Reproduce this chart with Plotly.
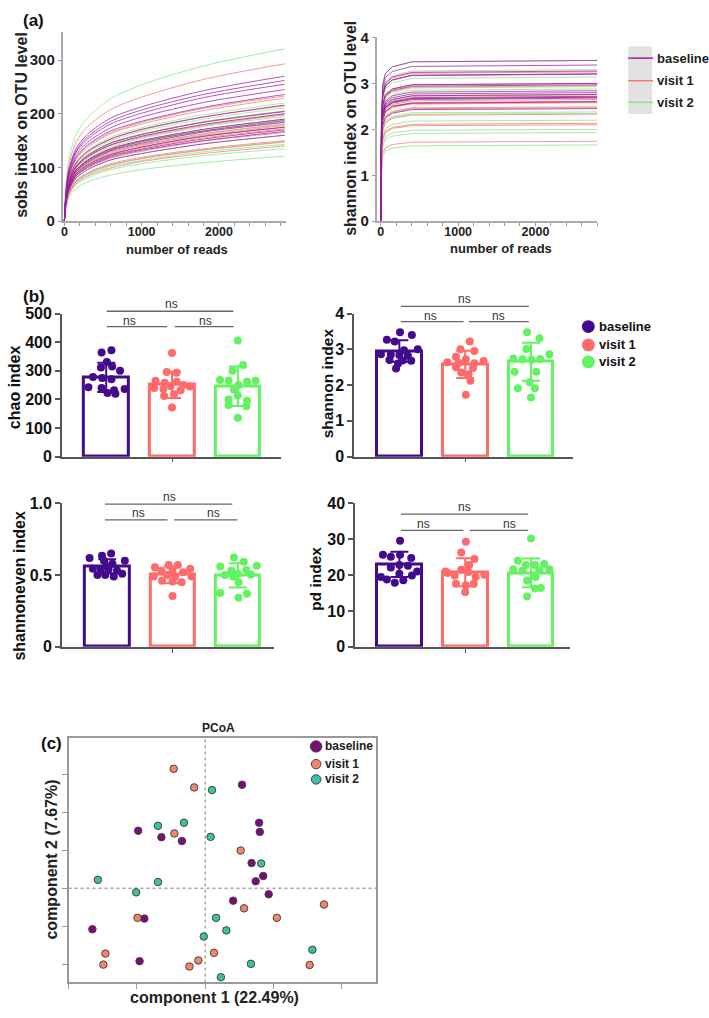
import plotly.graph_objects as go

W, H = 709, 1018
FONT = "Liberation Sans, Arial, sans-serif"

groups = ["baseline", "visit 1", "visit 2"]

# ---------------- (a) rarefaction curves ----------------
sobs_depth = [0, 20, 60, 150, 300, 600, 1000, 1800, 2850]
sobs_baseline = [
    [0, 54, 97, 135, 162, 192, 213, 243, 270],
    [0, 52, 94, 131, 157, 186, 207, 236, 262],
    [0, 51, 92, 128, 153, 181, 201, 230, 255],
    [0, 49, 88, 123, 147, 174, 194, 221, 245],
    [0, 47, 85, 118, 142, 168, 186, 212, 236],
    [0, 43, 78, 108, 130, 153, 171, 194, 216],
    [0, 41, 73, 102, 122, 145, 161, 184, 204],
    [0, 40, 72, 100, 120, 142, 158, 180, 200],
    [0, 38, 68, 95, 114, 135, 150, 171, 190],
    [0, 37, 67, 94, 112, 133, 148, 168, 187],
    [0, 37, 66, 92, 110, 131, 145, 166, 184],
    [0, 35, 63, 88, 105, 124, 138, 158, 175],
    [0, 34, 61, 85, 102, 121, 134, 153, 170],
    [0, 33, 60, 84, 100, 119, 132, 150, 167],
    [0, 32, 58, 80, 96, 114, 126, 144, 160],
]
sobs_visit1 = [
    [0, 59, 105, 147, 176, 208, 231, 264, 293],
    [0, 47, 84, 117, 140, 165, 184, 210, 233],
    [0, 46, 82, 115, 137, 163, 181, 206, 229],
    [0, 43, 77, 108, 129, 153, 170, 194, 215],
    [0, 41, 74, 103, 123, 146, 162, 185, 205],
    [0, 40, 71, 99, 119, 141, 156, 178, 198],
    [0, 38, 68, 95, 114, 135, 150, 171, 190],
    [0, 36, 65, 91, 109, 129, 143, 163, 181],
    [0, 36, 64, 89, 107, 126, 141, 160, 178],
    [0, 35, 63, 88, 105, 124, 138, 158, 175],
    [0, 34, 62, 86, 103, 122, 136, 155, 172],
    [0, 33, 59, 83, 99, 117, 130, 149, 165],
    [0, 30, 54, 75, 90, 107, 119, 135, 150],
    [0, 30, 53, 74, 89, 105, 117, 133, 148],
    [0, 28, 50, 70, 84, 99, 111, 126, 140],
]
sobs_visit2 = [
    [0, 64, 116, 161, 193, 228, 254, 289, 321],
    [0, 44, 79, 110, 132, 156, 174, 198, 220],
    [0, 42, 76, 106, 127, 150, 167, 190, 211],
    [0, 41, 74, 103, 123, 146, 162, 185, 205],
    [0, 40, 72, 100, 120, 142, 158, 180, 200],
    [0, 39, 70, 98, 117, 138, 154, 176, 195],
    [0, 38, 68, 94, 113, 133, 149, 169, 188],
    [0, 37, 67, 93, 111, 131, 146, 167, 185],
    [0, 36, 65, 90, 108, 128, 142, 162, 180],
    [0, 35, 63, 88, 105, 124, 138, 158, 175],
    [0, 32, 58, 80, 96, 114, 126, 144, 160],
    [0, 29, 53, 74, 88, 104, 116, 132, 147],
    [0, 29, 51, 72, 86, 102, 113, 129, 143],
    [0, 27, 49, 68, 81, 96, 107, 122, 135],
    [0, 24, 44, 61, 73, 86, 96, 109, 121],
]

shan_depth = [0, 8, 25, 60, 150, 400, 2800]
shan_baseline = [
    [0, 2.10, 2.98, 3.22, 3.36, 3.47, 3.50],
    [0, 2.04, 2.89, 3.13, 3.26, 3.37, 3.40],
    [0, 1.96, 2.78, 3.01, 3.14, 3.24, 3.27],
    [0, 1.93, 2.73, 2.95, 3.08, 3.18, 3.21],
    [0, 1.92, 2.72, 2.94, 3.07, 3.17, 3.20],
    [0, 1.80, 2.55, 2.76, 2.88, 2.97, 3.00],
    [0, 1.78, 2.52, 2.73, 2.85, 2.94, 2.97],
    [0, 1.70, 2.41, 2.61, 2.73, 2.81, 2.84],
    [0, 1.68, 2.38, 2.58, 2.69, 2.77, 2.80],
    [0, 1.66, 2.35, 2.54, 2.65, 2.73, 2.76],
    [0, 1.63, 2.31, 2.50, 2.61, 2.69, 2.72],
    [0, 1.62, 2.30, 2.48, 2.59, 2.67, 2.70],
    [0, 1.61, 2.28, 2.47, 2.57, 2.65, 2.68],
    [0, 1.56, 2.21, 2.39, 2.50, 2.57, 2.60],
    [0, 1.47, 2.08, 2.25, 2.35, 2.43, 2.45],
]
shan_visit1 = [
    [0, 1.95, 2.76, 2.99, 3.12, 3.22, 3.25],
    [0, 1.80, 2.55, 2.76, 2.88, 2.97, 3.00],
    [0, 1.77, 2.51, 2.71, 2.83, 2.92, 2.95],
    [0, 1.66, 2.35, 2.54, 2.65, 2.73, 2.76],
    [0, 1.62, 2.30, 2.48, 2.59, 2.67, 2.70],
    [0, 1.59, 2.25, 2.44, 2.54, 2.62, 2.65],
    [0, 1.57, 2.22, 2.40, 2.51, 2.58, 2.61],
    [0, 1.56, 2.21, 2.39, 2.50, 2.57, 2.60],
    [0, 1.55, 2.19, 2.37, 2.48, 2.55, 2.58],
    [0, 1.49, 2.12, 2.29, 2.39, 2.47, 2.49],
    [0, 1.48, 2.10, 2.27, 2.37, 2.45, 2.47],
    [0, 1.40, 1.98, 2.14, 2.24, 2.31, 2.33],
    [0, 1.28, 1.81, 1.96, 2.04, 2.11, 2.13],
    [0, 1.26, 1.79, 1.93, 2.02, 2.08, 2.10],
    [0, 1.04, 1.48, 1.60, 1.67, 1.72, 1.74],
]
shan_visit2 = [
    [0, 2.10, 2.98, 3.22, 3.36, 3.47, 3.50],
    [0, 1.98, 2.81, 3.04, 3.17, 3.27, 3.30],
    [0, 1.88, 2.67, 2.89, 3.01, 3.11, 3.14],
    [0, 1.80, 2.55, 2.76, 2.88, 2.97, 3.00],
    [0, 1.76, 2.49, 2.70, 2.81, 2.90, 2.93],
    [0, 1.73, 2.45, 2.65, 2.76, 2.85, 2.88],
    [0, 1.65, 2.34, 2.53, 2.64, 2.72, 2.75],
    [0, 1.62, 2.30, 2.48, 2.59, 2.67, 2.70],
    [0, 1.56, 2.21, 2.39, 2.50, 2.57, 2.60],
    [0, 1.43, 2.02, 2.19, 2.28, 2.36, 2.38],
    [0, 1.41, 2.00, 2.16, 2.26, 2.33, 2.35],
    [0, 1.32, 1.87, 2.02, 2.11, 2.18, 2.20],
    [0, 1.20, 1.70, 1.84, 1.92, 1.98, 2.00],
    [0, 1.16, 1.64, 1.78, 1.85, 1.91, 1.93],
    [0, 1.00, 1.41, 1.53, 1.59, 1.64, 1.66],
]

# ---------------- (b) alpha diversity bars ----------------
chao_mean = [277, 251, 246]
chao_sd = [51, 46, 69]
chao_pts = [
    [372, 364, 331, 315, 311, 300, 278, 275, 270, 242, 240, 236, 232, 222, 220],
    [362, 296, 293, 265, 262, 258, 250, 247, 245, 240, 236, 232, 218, 212, 172],
    [406, 320, 300, 268, 266, 265, 262, 250, 235, 214, 200, 195, 180, 176, 136],
]
chao_jit = [
    [0.08, -0.07, 0.01, 0.09, -0.08, 0.21, -0.2, -0.06, 0.08, -0.27, -0.07, 0.28, 0.12, 0.02, 0.14],
    [0.0, -0.08, 0.07, -0.25, 0.07, -0.11, 0.17, -0.02, 0.27, -0.27, -0.13, 0.13, 0.03, -0.12, 0.0],
    [0.0, 0.08, -0.08, -0.27, -0.14, 0.27, 0.14, 0.01, -0.06, 0.0, -0.14, 0.14, -0.14, 0.13, 0.0],
]

shannon_mean = [2.95, 2.58, 2.65]
shannon_sd = [0.30, 0.38, 0.53]
shannon_pts = [
    [3.48, 3.40, 3.27, 3.22, 3.00, 2.97, 2.86, 2.85, 2.84, 2.82, 2.70, 2.69, 2.68, 2.60, 2.46],
    [3.22, 3.00, 2.95, 2.79, 2.72, 2.67, 2.64, 2.62, 2.61, 2.50, 2.48, 2.35, 2.30, 2.12, 1.73],
    [3.48, 3.31, 3.01, 2.86, 2.74, 2.72, 2.71, 2.73, 2.37, 2.37, 2.08, 1.91, 1.91, 1.65],
]
shannon_jit = [
    [0.01, 0.19, -0.19, -0.07, 0.28, 0.07, -0.28, -0.13, 0.0, 0.13, -0.15, 0.05, 0.18, -0.02, -0.05],
    [0.07, -0.07, 0.14, -0.14, 0.01, 0.28, -0.27, -0.1, 0.14, -0.14, 0.12, -0.06, 0.05, 0.08, 0.01],
    [-0.06, 0.13, -0.07, 0.28, -0.27, -0.13, 0.01, 0.14, -0.25, 0.08, -0.02, -0.2, 0.06, 0.0],
]

even_mean = [0.562, 0.502, 0.498]
even_sd = [0.049, 0.058, 0.085]
even_pts = [
    [0.65, 0.635, 0.62, 0.60, 0.60, 0.58, 0.56, 0.545, 0.54, 0.54, 0.53, 0.51, 0.50, 0.50, 0.49],
    [0.57, 0.57, 0.555, 0.545, 0.53, 0.53, 0.52, 0.50, 0.49, 0.49, 0.49, 0.46, 0.455, 0.45, 0.355],
    [0.623, 0.594, 0.56, 0.565, 0.53, 0.535, 0.50, 0.51, 0.505, 0.49, 0.45, 0.375, 0.37, 0.342],
]
even_jit = [
    [0.06, -0.08, -0.27, 0.27, -0.05, 0.08, -0.01, -0.22, -0.1, 0.02, 0.15, 0.23, -0.15, -0.03, 0.1],
    [-0.06, 0.08, -0.27, 0.27, -0.17, 0.0, 0.16, -0.08, -0.29, 0.04, 0.29, -0.16, 0.0, 0.14, 0.0],
    [-0.06, 0.09, -0.27, 0.29, -0.1, 0.13, -0.2, 0.0, 0.2, -0.07, 0.01, -0.27, 0.14, 0.01],
]

pd_mean = [23.0, 20.8, 20.6]
pd_sd = [3.5, 3.9, 4.0]
pd_pts = [
    [29.6, 25.7, 25.1, 25.7, 24.8, 22.1, 22.8, 22.6, 20.4, 19.9, 19.5, 18.8, 17.9, 18.6, 21.0],
    [29.3, 26.3, 24.5, 22.8, 21.5, 20.6, 20.1, 19.9, 19.5, 20.9, 17.6, 17.2, 17.6, 15.3, 21.0],
    [30.2, 24.0, 22.8, 22.8, 23.1, 21.6, 21.3, 21.3, 21.6, 18.5, 19.5, 16.3, 16.4, 14.0],
]
pd_jit = [
    [0.01, -0.25, -0.13, 0.01, 0.18, -0.13, 0.0, 0.13, 0.0, 0.19, -0.28, -0.19, -0.07, 0.06, 0.27],
    [0.01, -0.06, 0.14, 0.06, -0.06, -0.27, 0.29, -0.16, 0.16, 0.05, -0.14, 0.01, 0.13, 0.0, -0.3],
    [0.0, -0.2, -0.08, 0.06, 0.2, -0.27, -0.13, 0.13, 0.28, -0.06, 0.07, 0.06, 0.15, -0.06],
]

# ---------------- (c) PCoA ----------------
pcoa_x = {
    "baseline": [0.054, 0.079, 0.080, -0.098, -0.064, -0.034, 0.068, 0.085, 0.074, 0.093, 0.041, -0.089, -0.165, -0.096],
    "visit 1": [-0.046, -0.016, -0.045, 0.052, 0.057, 0.174, 0.105, -0.099, -0.146, -0.149, -0.023, -0.010, 0.013, 0.153],
    "visit 2": [0.010, -0.069, -0.031, 0.008, 0.082, -0.157, -0.069, -0.101, 0.016, 0.031, -0.002, 0.157, 0.067, 0.023],
}
pcoa_y = {
    "baseline": [0.272, 0.172, 0.148, 0.151, 0.134, 0.124, 0.066, 0.032, 0.018, -0.016, -0.033, -0.080, -0.108, -0.192],
    "visit 1": [0.314, 0.265, 0.144, 0.099, -0.053, -0.043, -0.078, -0.078, -0.172, -0.201, -0.206, -0.190, -0.170, -0.202],
    "visit 2": [0.258, 0.164, 0.172, 0.135, 0.065, 0.022, 0.016, -0.011, -0.078, -0.111, -0.127, -0.162, -0.199, -0.234],
}

rare_colors = {"baseline": "#9B1FA4", "visit 1": "#F27C74", "visit 2": "#8BE38B"}
bar_colors = {"baseline": "#440A8E", "visit 1": "#FF6B6B", "visit 2": "#62F262"}
pcoa_colors = {"baseline": "#7B0C7B", "visit 1": "#F2856B", "visit 2": "#3FBFA6"}


def dx(a, b):
    return [a / W, b / W]


def dy(top, bottom):
    return [1 - bottom / H, 1 - top / H]


def PX(x):
    return x / W


def PY(y):
    return 1 - y / H


fig = go.Figure()

# rarefaction traces
sobs_sets = {"baseline": sobs_baseline, "visit 1": sobs_visit1, "visit 2": sobs_visit2}
shan_sets = {"baseline": shan_baseline, "visit 1": shan_visit1, "visit 2": shan_visit2}
for g in ["visit 2", "visit 1", "baseline"]:
    for curve in sobs_sets[g]:
        fig.add_trace(go.Scatter(x=sobs_depth, y=curve, mode="lines", xaxis="x", yaxis="y",
                                 line=dict(color=rare_colors[g], width=1, shape="spline", smoothing=0.8),
                                 opacity=0.75, showlegend=False, hoverinfo="skip"))
    for curve in shan_sets[g]:
        fig.add_trace(go.Scatter(x=shan_depth, y=curve, mode="lines", xaxis="x2", yaxis="y2",
                                 line=dict(color=rare_colors[g], width=1),
                                 opacity=0.75, showlegend=False, hoverinfo="skip"))

# bar panels
panels = [
    ("3", chao_mean, chao_sd, chao_pts, chao_jit),
    ("4", shannon_mean, shannon_sd, shannon_pts, shannon_jit),
    ("5", even_mean, even_sd, even_pts, even_jit),
    ("6", pd_mean, pd_sd, pd_pts, pd_jit),
]
for ax, means, sds, pts, jit in panels:
    for i, g in enumerate(groups):
        c = bar_colors[g]
        fig.add_trace(go.Bar(x=[i], y=[means[i]], width=0.68, xaxis="x" + ax, yaxis="y" + ax,
                             marker=dict(color="rgba(255,255,255,0)", line=dict(color=c, width=3)),
                             error_y=dict(type="data", array=[sds[i]], color=c, thickness=2, width=9),
                             showlegend=False, hoverinfo="skip"))
        fig.add_trace(go.Scatter(x=[i + j for j in jit[i]], y=pts[i], mode="markers",
                                 xaxis="x" + ax, yaxis="y" + ax,
                                 marker=dict(color=c, size=8, line=dict(width=0)),
                                 showlegend=False, hoverinfo="skip"))

# PCoA
for g in groups:
    fig.add_trace(go.Scatter(x=pcoa_x[g], y=pcoa_y[g], mode="markers", xaxis="x7", yaxis="y7",
                             marker=dict(color=pcoa_colors[g], size=7.5, line=dict(color="#444", width=1)),
                             showlegend=False, hoverinfo="skip"))

tickAy = dict(family=FONT, size=15, color="#222", weight="bold")
tickAx = dict(family=FONT, size=12.5, color="#222", weight="bold")
tickB = dict(family=FONT, size=16, color="#111", weight="bold")

layout = dict(
    width=W, height=H, margin=dict(l=0, r=0, t=0, b=0),
    paper_bgcolor="white", plot_bgcolor="white", showlegend=False,
    font=dict(family=FONT),
    bargap=0,
    xaxis=dict(domain=dx(61, 285), range=[-20, 2870], anchor="y", tickmode="linear", tick0=0, dtick=1000,
               ticks="outside", ticklen=3, tickcolor="#999", showline=True, linecolor="#aaa", linewidth=2,
               showgrid=False, zeroline=False, tickfont=tickAx, ticklabelstandoff=-5,
               minor=dict(tick0=0, dtick=200, ticks="outside", ticklen=3, tickcolor="#999")),
    yaxis=dict(domain=dy(23, 216), range=[0, 353], anchor="x", tickmode="linear", tick0=0, dtick=100,
               ticks="outside", ticklen=3, tickcolor="#999", showline=True, linecolor="#aaa", linewidth=2,
               showgrid=False, zeroline=False, tickfont=tickAy),
    xaxis2=dict(domain=dx(376, 597), range=[-50, 2800], anchor="y2", tickmode="linear", tick0=0, dtick=1000,
                ticks="outside", ticklen=3, tickcolor="#999", showline=True, linecolor="#aaa", linewidth=2,
                showgrid=False, zeroline=False, tickfont=tickAx, ticklabelstandoff=-5,
                minor=dict(tick0=0, dtick=200, ticks="outside", ticklen=3, tickcolor="#999")),
    yaxis2=dict(domain=dy(29, 216), range=[0, 4], anchor="x2", tickmode="linear", tick0=0, dtick=1,
                ticks="outside", ticklen=3, tickcolor="#999", showline=True, linecolor="#aaa", linewidth=2,
                showgrid=False, zeroline=False, tickfont=tickAy),
)

bar_axes = {
    "3": (dx(60, 280), [-0.674, 2.659], dy(310, 455.7), [0, 500], dict(tickmode="linear", tick0=0, dtick=100)),
    "4": (dx(353, 573), [-0.689, 2.644], dy(310, 455.7), [0, 4], dict(tickmode="linear", tick0=0, dtick=1)),
    "5": (dx(60, 273), [-0.695, 2.557], dy(503.3, 649.3), [0, 1],
          dict(tickmode="array", tickvals=[0, 0.5, 1.0], ticktext=["0", "0.5", "1.0"])),
    "6": (dx(354, 570), [-0.674, 2.598], dy(503.3, 649.3), [0, 40], dict(tickmode="linear", tick0=0, dtick=10)),
}
for k, (xd, xr, yd, yr, yt) in bar_axes.items():
    layout["xaxis" + k] = dict(domain=xd, range=xr, anchor="y" + k, tickmode="array", tickvals=[1], ticktext=[""],
                               ticks="outside", ticklen=4, tickcolor="#555", showline=True, linecolor="#555",
                               linewidth=1.5, showgrid=False, zeroline=False)
    ya = dict(domain=yd, range=yr, anchor="x" + k, ticks="outside", ticklen=5, tickcolor="#555", tickwidth=1.5,
              showline=True, linecolor="#555", linewidth=1.5, showgrid=False, zeroline=False, tickfont=tickB)
    ya.update(yt)
    layout["yaxis" + k] = ya

layout["xaxis7"] = dict(domain=dx(66.7, 375), range=[-0.2, 0.25], anchor="y7", tickmode="array",
                        tickvals=[-0.2, -0.1, 0, 0.1, 0.2], showticklabels=False, ticks="outside", ticklen=5,
                        tickcolor="#999", showline=True, mirror=True, linecolor="#999", linewidth=2,
                        showgrid=False, zeroline=False)
layout["yaxis7"] = dict(domain=dy(741.7, 991), range=[-0.248, 0.396], anchor="x7", tickmode="array",
                        tickvals=[-0.2, -0.1, 0, 0.1, 0.2, 0.3], showticklabels=False, ticks="outside", ticklen=5,
                        tickcolor="#999", showline=True, mirror=True, linecolor="#999", linewidth=2,
                        showgrid=False, zeroline=False)
fig.update_layout(**layout)

shapes = []
annots = []


def text(x, y, s, size, bold=True, angle=0, anchor="center", color="#111"):
    annots.append(dict(x=PX(x), y=PY(y), xref="paper", yref="paper", text=s, showarrow=False,
                       textangle=angle, xanchor=anchor, yanchor="middle",
                       font=dict(family=FONT, size=size, color=color, weight="bold" if bold else "normal")))


# panel labels and axis titles
text(32, 12, "(a)", 17)
text(32, 293, "(b)", 17)
text(50, 748, "(c)", 17)
text(20, 118, "sobs index on OTU level", 16, angle=-90, color="#222")
text(175, 245, "number of reads", 13, color="#222")
text(350, 122, "shannon index on OTU level", 16, angle=-90, color="#222")
text(500, 244, "number of reads", 13, color="#222")
text(12, 385, "chao index", 16, angle=-90)
text(326, 381, "shannon index", 15.5, angle=-90)
text(18, 587, "shannoneven index", 16, angle=-90)
text(315, 580, "pd index", 15.5, angle=-90)
text(217, 732, "PCoA", 12, color="#222")
text(213, 1006, "component 1 (22.49%)", 16, color="#222")
text(50, 866, "component 2 (7.67%)", 16, angle=-90, color="#222")

# (a) legend
shapes.append(dict(type="rect", xref="paper", yref="paper", x0=PX(628), x1=PX(652), y0=PY(107), y1=PY(38),
                   fillcolor="#e2e2e2", line=dict(width=0), layer="below"))
for g, yy in zip(groups, [50, 73, 95]):
    shapes.append(dict(type="line", xref="paper", yref="paper", x0=PX(628), x1=PX(653), y0=PY(yy), y1=PY(yy),
                       line=dict(color=rare_colors[g], width=1.5)))
    text(655, yy, g, 13, anchor="left", color="#222")

# (b) legend
for g, yy in zip(groups, [323.3, 342, 359.3]):
    r = 6.5
    shapes.append(dict(type="circle", xref="paper", yref="paper", x0=PX(588 - r), x1=PX(588 + r),
                       y0=PY(yy + r), y1=PY(yy - r), fillcolor=bar_colors[g], line=dict(width=0)))
    text(597, yy, g, 13, anchor="left")

# (c) legend
for g, yy, r in zip(groups, [750.7, 768.7, 784.3], [5.8, 4.8, 4.8]):
    shapes.append(dict(type="circle", xref="paper", yref="paper", x0=PX(315 - r), x1=PX(315 + r),
                       y0=PY(yy + r), y1=PY(yy - r), fillcolor=pcoa_colors[g], line=dict(color="#444", width=1)))
    text(321.5, yy, g, 12, anchor="left", color="#222")

# significance brackets (pixel geometry)
brackets = [
    [(105, 232, 307.7, 170, 300.5), (105, 165.7, 323.3, 127.7, 317.5), (173.3, 232.3, 323.3, 204, 317.5)],
    [(400, 528.3, 302.7, 464.3, 295.5), (400, 462.7, 318.3, 429.3, 312.5), (468.3, 528.3, 318.3, 497.7, 312.5)],
    [(103.3, 231, 504, 167.7, 497), (103.3, 166, 520, 136.7, 513), (172.7, 236, 520, 211.7, 513)],
    [(400, 527.7, 514.3, 464.3, 507), (400, 462.7, 530.7, 422.7, 524.5), (469, 527.7, 530.7, 509.3, 524.5)],
]
for br in brackets:
    for x0, x1, yy, tx, ty in br:
        shapes.append(dict(type="line", xref="paper", yref="paper", x0=PX(x0), x1=PX(x1), y0=PY(yy), y1=PY(yy),
                           line=dict(color="#666", width=1.3)))
        text(tx, ty, "ns", 12, bold=False, color="#333")

# PCoA dotted zero lines
shapes.append(dict(type="line", xref="x7", yref="y7", x0=0, x1=0, y0=-0.248, y1=0.396,
                   line=dict(color="#777", width=1, dash="dot"), layer="below"))
shapes.append(dict(type="line", xref="x7", yref="y7", x0=-0.2, x1=0.25, y0=0, y1=0,
                   line=dict(color="#777", width=1, dash="dot"), layer="below"))

fig.update_layout(shapes=shapes, annotations=annots)
fig.write_html("out.html", config={"displayModeBar": False},
               post_script="document.body.style.margin='0';document.body.style.padding='0';"
                           "document.body.style.overflow='hidden';")
